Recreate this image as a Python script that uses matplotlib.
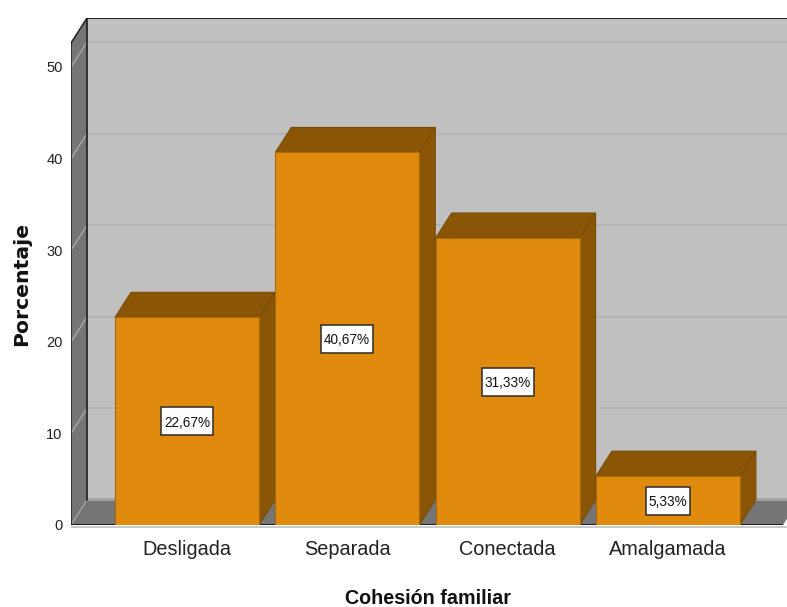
import matplotlib
matplotlib.use("Agg")
import matplotlib.pyplot as plt
from matplotlib.patches import Polygon, Rectangle

categories = ["Desligada", "Separada", "Conectada", "Amalgamada"]
values = [22.67, 40.67, 31.33, 5.33]
labels = ["22,67%", "40,67%", "31,33%", "5,33%"]
yticks = [0, 10, 20, 30, 40, 50]

W, H = 787, 607
X0, Y0 = 187.0, 525.0     # pixel of category 0 centre, pixel of value 0
PX_CAT, PX_VAL = 160.3, 9.16
LEFT_PX, RIGHT_PX, TOP_PX = 71, 787, 18
DX, DY = 16 / PX_CAT, 25 / PX_VAL
BW = 144 / PX_CAT
SANS = "Liberation Sans"

FRONT = "#e08a0e"
DARK = "#8a5606"
EDGE = "#7a4c05"
WALL = "#c0c0c0"
SIDE = "#757575"
GRID = "#b4b4b4"
SIDEGRID = "#a8a8a8"

fig = plt.figure(figsize=(W / 100, H / 100), dpi=100, facecolor="white")
ax = fig.add_axes([LEFT_PX / W, 1 - Y0 / H, (RIGHT_PX - LEFT_PX) / W, (Y0 - TOP_PX) / H])
xmin, xmax = (LEFT_PX - X0) / PX_CAT, (RIGHT_PX - X0) / PX_CAT
ymax = (Y0 - TOP_PX) / PX_VAL
top_front = ymax - DY
floor_end = xmax - 4 / PX_CAT
ax.set_xlim(xmin, xmax)
ax.set_ylim(0, ymax)
for s in ax.spines.values():
    s.set_visible(False)
ax.patch.set_visible(False)

# back wall, side wall, floor
bx = xmin + DX
ax.add_patch(Rectangle((bx, DY), xmax - bx + 1, top_front, fc=WALL, ec="none", zorder=1))
ax.add_patch(Polygon([(xmin, 0), (bx, DY), (bx, ymax), (xmin, top_front)], fc=SIDE, ec="none", zorder=1))
ax.add_patch(Polygon([(xmin, 0), (bx, DY), (floor_end + DX, DY), (floor_end, 0)], fc=SIDE, ec="none", zorder=1))
for t in yticks[1:]:
    ax.plot([bx, xmax], [t + DY, t + DY], color=GRID, lw=1.4, zorder=2, solid_capstyle="butt")
    ax.plot([xmin, bx], [t, t + DY], color=SIDEGRID, lw=1.0, zorder=2)
ax.plot([xmin, bx], [0, DY], color=SIDEGRID, lw=0.8, zorder=2)
ax.plot([bx, xmax], [DY + 0.15, DY + 0.15], color="#a4a4a4", lw=2, zorder=2, solid_capstyle="butt")
# frame lines
ax.plot([bx, bx], [DY, ymax], color="#111111", lw=1.1, zorder=3)
ax.plot([xmin, xmin], [0, top_front], color="#222222", lw=1.1, zorder=3)
ax.plot([xmin, bx], [top_front, ymax], color="#222222", lw=1.1, zorder=3)
ax.plot([bx, xmax], [ymax, ymax], color="#222222", lw=1.4, zorder=3)
ax.plot([xmin, floor_end], [0.05, 0.05], color="#111111", lw=1.3, zorder=3, solid_capstyle="butt")
ax.plot([xmin, xmax], [-0.22, -0.22], color="#bdbdbd", lw=1.2, zorder=3, clip_on=False, solid_capstyle="butt")

# bars
pos = range(len(categories))
for i in pos:
    v = values[i]
    l, r = i - BW / 2, i + BW / 2
    z = 4 + i
    ax.add_patch(Polygon([(r, 0), (r + DX, DY), (r + DX, v + DY), (r, v)], fc=DARK, ec=EDGE, lw=0.8, zorder=z))
    ax.add_patch(Polygon([(l, v), (l + DX, v + DY), (r + DX, v + DY), (r, v)], fc=DARK, ec=EDGE, lw=0.8, zorder=z))
    ax.bar(i, v, width=BW, color=FRONT, edgecolor="#a86a0a", linewidth=0.8, zorder=z + 0.1)
    bw = (52 if len(labels[i]) > 5 else 44) / PX_CAT
    bh = 28 / PX_VAL
    ax.add_patch(Rectangle((i - bw / 2, v / 2 - bh / 2), bw, bh, fc="white", ec="#2a2a2a", lw=1.1, zorder=19))
    ax.text(i, v / 2, labels[i], ha="center", va="center_baseline", fontsize=9.8, family=SANS,
            color="#111111", zorder=20)

ax.set_xticks(list(pos))
ax.set_xticklabels(categories, fontsize=14.3, family=SANS, color="#222222")
ax.set_yticks(yticks)
ax.set_yticklabels([str(t) for t in yticks], fontsize=10.5, family=SANS, color="#222222")
ax.tick_params(axis="x", length=0, pad=11)
ax.tick_params(axis="y", length=0, pad=6)

fig.text(428 / W, 1 - 599 / H, "Cohesión familiar", ha="center", va="center", fontsize=14.2,
         family=SANS, fontweight="bold", color="#111111")
fig.text(22 / W, 1 - 283.5 / H, "Porcentaje", ha="center", va="center", rotation=90, fontsize=14.7,
         family="DejaVu Sans", fontweight="bold", color="#111111")

fig.savefig("out.png", dpi=100, facecolor="white")
